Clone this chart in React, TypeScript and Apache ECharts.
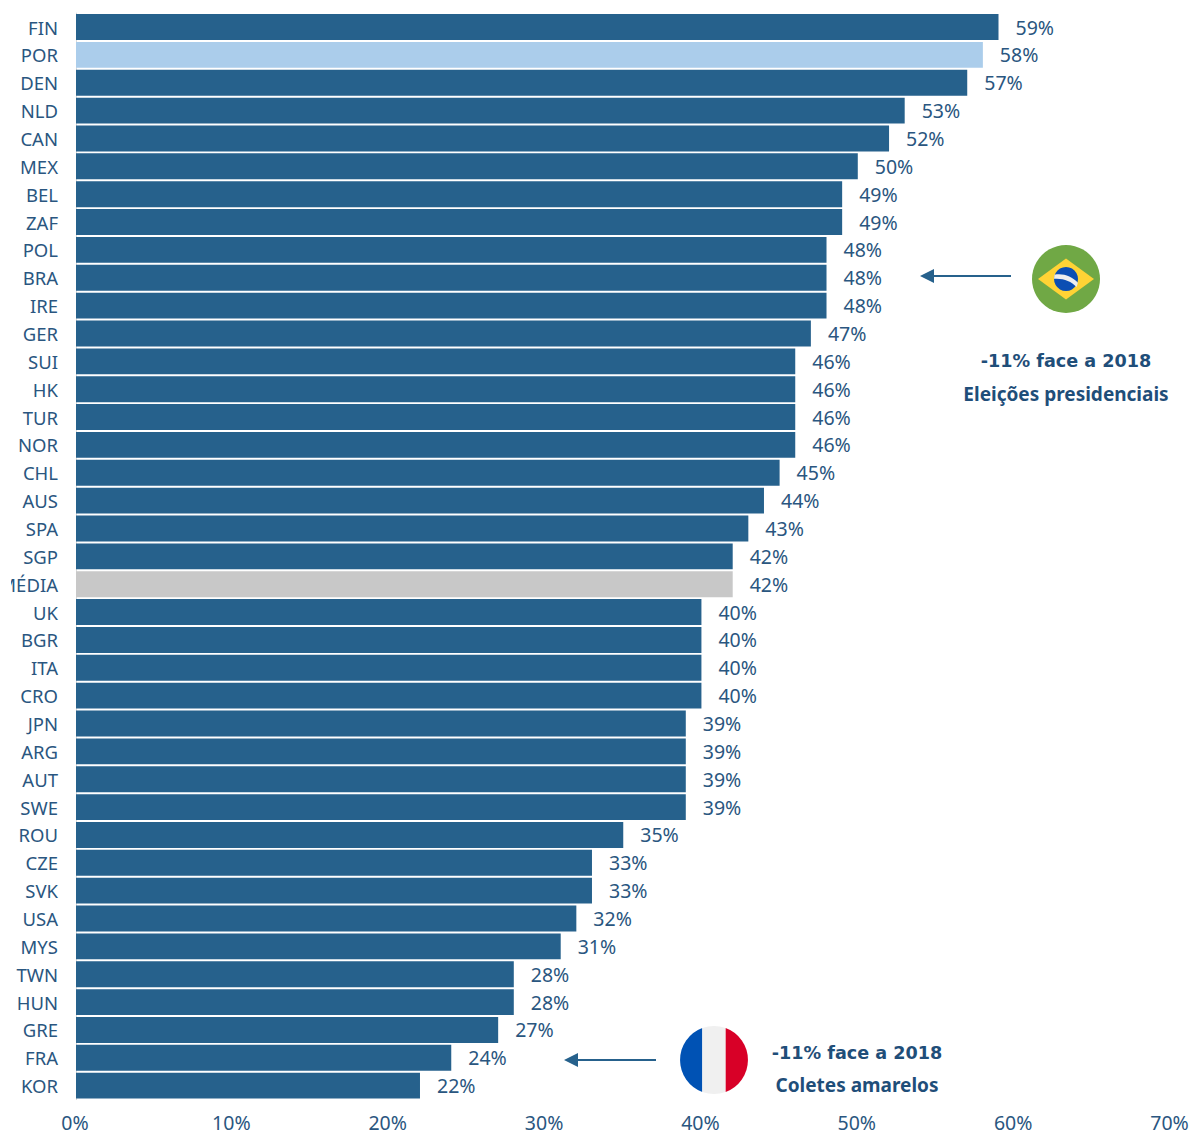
import React, { useEffect, useRef } from "react";
import * as echarts from "echarts";

const categories = ["FIN","POR","DEN","NLD","CAN","MEX","BEL","ZAF","POL","BRA","IRE","GER","SUI","HK","TUR","NOR","CHL","AUS","SPA","SGP","MÉDIA","UK","BGR","ITA","CRO","JPN","ARG","AUT","SWE","ROU","CZE","SVK","USA","MYS","TWN","HUN","GRE","FRA","KOR"];
const values = [59,58,57,53,52,50,49,49,48,48,48,47,46,46,46,46,45,44,43,42,42,40,40,40,40,39,39,39,39,35,33,33,32,31,28,28,27,24,22];

const BAR = "#26618C";
const HIGHLIGHT = "#ABCDEB";
const AVERAGE = "#C8C8C8";
const TEXT = "#2A5680";
const NOTE = "#1F4E79";
const FONT = "'Noto Sans', sans-serif";
const FIGURE_FONT = "'DejaVu Sans', sans-serif";

// Flag pieces, in coordinates relative to the flag's centre
echarts.graphic.registerShape("flagLeft", echarts.graphic.extendPath("M -11.7 -31.9 A 34 34 0 0 0 -11.7 31.9 Z", {}));
echarts.graphic.registerShape("flagMid", echarts.graphic.extendPath("M -11.7 -31.9 A 34 34 0 0 1 11.7 -31.9 L 11.7 31.9 A 34 34 0 0 1 -11.7 31.9 Z", {}));
echarts.graphic.registerShape("flagRight", echarts.graphic.extendPath("M 11.7 -31.9 A 34 34 0 0 1 11.7 31.9 Z", {}));
echarts.graphic.registerShape("flagBand", echarts.graphic.extendPath("M -11.6 -4.2 C -3 -6 6 -2.5 11.9 3.8 L 10.6 8 C 5 2 -3 -1 -12 -0.2 Z", {}));

function arrow(tip: number, tail: number, y: number) {
  return [
    { type: "line", z: 50, shape: { x1: tip + 12, y1: y, x2: tail, y2: y }, style: { stroke: BAR, lineWidth: 2 } },
    { type: "polygon", z: 50, shape: { points: [[tip, y], [tip + 14, y - 7], [tip + 14, y + 7]] }, style: { fill: BAR } },
  ];
}

function note(text: string, x: number, y: number, font: string) {
  return {
    type: "text", z: 50, x, y,
    style: { text, fill: NOTE, font, textAlign: "center", textVerticalAlign: "middle" },
  };
}

const figureFont = `bold 17.6px ${FIGURE_FONT}`;
const captionFont = `bold 19px ${FONT}`;

export default function App() {
  const ref = useRef<HTMLDivElement>(null);
  useEffect(() => {
    const chart = echarts.init(ref.current!, undefined, { renderer: "svg" });
    chart.setOption({
      animation: false,
      backgroundColor: "#ffffff",
      grid: { left: 76, top: 13.1, width: 1094.5, height: 1086.5, outerBoundsMode: "none" },
      xAxis: {
        type: "value", min: 0, max: 70, interval: 10,
        splitLine: { show: false }, axisLine: { show: false }, axisTick: { show: false },
        axisLabel: { formatter: "{value}%", color: TEXT, fontFamily: FONT, fontSize: 19.5, margin: 12.6, padding: [0, 2, 0, 0] },
      },
      yAxis: {
        type: "category", inverse: true, data: categories,
        axisLine: { show: true, lineStyle: { color: "#D9D9D9", width: 1 } },
        axisTick: { show: false },
        axisLabel: { color: TEXT, fontFamily: FONT, fontSize: 18.5, margin: 18, interval: 0 },
      },
      series: [{
        type: "bar",
        barCategoryGap: "7%",
        data: values.map((value, i) => ({
          value,
          itemStyle: { color: categories[i] === "POR" ? HIGHLIGHT : categories[i] === "MÉDIA" ? AVERAGE : BAR },
        })),
        label: {
          show: true, position: "right", distance: 17, formatter: "{c}%",
          color: TEXT, fontFamily: FONT, fontSize: 19.5,
        },
      }],
      graphic: [
        // Left page edge trims the longest category label
        { type: "rect", z: 60, shape: { x: 0, y: 570, width: 11, height: 28 }, style: { fill: "#ffffff" } },

        ...arrow(920, 1011, 276),
        { type: "circle", z: 50, shape: { cx: 1066, cy: 279, r: 34 }, style: { fill: "#70A845" } },
        { type: "polygon", z: 51, shape: { points: [[1038, 279], [1066, 258.5], [1094, 279], [1066, 299.5]] }, style: { fill: "#FFD335" } },
        { type: "circle", z: 52, shape: { cx: 1066, cy: 279, r: 12 }, style: { fill: "#0B4EB3" } },
        { type: "flagBand", z: 53, x: 1066, y: 279, style: { fill: "#EEEEEE" } },
        note("-11% face a 2018", 1066, 361, figureFont),
        note("Eleições presidenciais", 1066, 394, captionFont),

        ...arrow(564, 656, 1060),
        { type: "flagLeft", z: 50, x: 714, y: 1060, style: { fill: "#0052B4" } },
        { type: "flagMid", z: 50, x: 714, y: 1060, style: { fill: "#F0F0F0" } },
        { type: "flagRight", z: 50, x: 714, y: 1060, style: { fill: "#D80027" } },
        note("-11% face a 2018", 857, 1053, figureFont),
        note("Coletes amarelos", 857, 1085, captionFont),
      ],
    });
    return () => chart.dispose();
  }, []);
  return <div ref={ref} style={{ position: "absolute", left: 0, top: 0, width: 1191, height: 1133 }} />;
}
